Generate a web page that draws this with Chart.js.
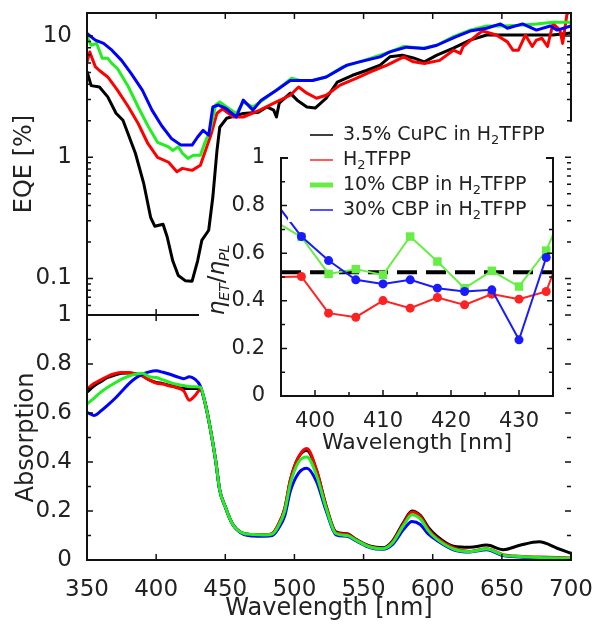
<!DOCTYPE html>
<html>
<head>
<meta charset="utf-8">
<script src="https://cdn.jsdelivr.net/npm/chart.js@4"></script>
<style>
  html, body { margin: 0; padding: 0; background: #fff; }
  #wrap { position: relative; width: 594px; height: 626px; overflow: hidden; }
  canvas { position: absolute; }
</style>
</head>
<body>
<div id="wrap">
  <canvas id="absChart" width="594" height="330" style="left:0;top:296px"></canvas>
  <canvas id="eqeChart" width="594" height="330" style="left:0;top:0"></canvas>
  <canvas id="insetChart" width="400" height="360" style="left:180px;top:110px"></canvas>
</div>
<script>
// ---- EQE (top panel), one wavelength list per curve ----
const eqeBlackWl = [350,353,359,365,371,376,385,391,396,399,405,408,412,416,421,426,430,433,438,441,444,446,451,463,474,480,485,487,489,497,502,509,515,523,531,542,552,562,569,578,586,594,603,615,627,639,651,663,675,687,700];
const eqeBlack   = [5.1,3.9,3.8,3.15,2.31,2.02,1.08,0.61,0.32,0.27,0.28,0.22,0.14,0.106,0.096,0.095,0.14,0.206,0.25,0.47,1.14,1.77,2.1,2.3,2.35,2.6,2.45,2.15,2.8,3.38,2.96,2.6,2.55,3.07,4.17,4.75,5.2,5.76,6.74,6.96,6.6,6.13,6.96,7.95,9.27,10.2,10.2,10.2,10.2,10.2,10.6];

const eqeRedWl = [350,352,356,359,365,372,380,387,394,401,409,412,415,419,426,432,435,440,444,448,456,463,475,487,497,503,509,516,523,533,545,555,567,579,586,594,605,615,620,622,632,636,646,654,658,662,667,672,675,679,683,687,692,694,697,700];
const eqeRed   = [6.1,7.4,5.6,5.2,4.6,3.58,2.6,1.9,1.3,1.0,0.91,0.83,0.76,0.81,0.78,0.86,1.08,1.58,2.31,2.5,2.15,2.15,2.45,2.86,3.25,3.8,3.38,3.07,3.25,3.94,4.5,5.07,5.76,6.74,6.13,5.95,6.3,7.65,7.2,8.2,10.2,11.0,10.2,8.96,7.65,7.65,10.2,8.2,9.27,9.6,8.2,12.7,11.2,8.7,15,17];

const eqeGreenWl = [350,353,357,361,365,368,372,380,387,394,401,409,412,416,419,423,427,432,435,439,443,446,451,458,463,470,477,487,498,504,513,523,535,547,562,569,579,593,603,615,627,639,651,663,675,687,700];
const eqeGreen   = [9.9,8.4,8.7,6.55,6.55,5.95,5.4,3.8,2.6,1.82,1.33,1.22,1.14,1.22,1.08,0.98,1.04,1.04,1.3,1.67,2.7,2.86,2.6,2.3,2.86,2.6,2.96,3.58,4.5,4.3,4.3,4.6,5.57,6.13,6.96,7.4,8.2,7.95,8.4,9.9,11.2,12.1,12.1,12.3,12.6,13.0,13.0];

const eqeBlueWl = [350,356,362,368,375,382,390,397,404,411,418,426,430,434,438,441,445,450,458,463,470,476,487,497,504,513,523,538,547,562,569,581,594,603,617,627,639,649,654,665,675,685,690,700];
const eqeBlue   = [10.5,9.27,8.7,7.65,6.3,4.9,3.58,2.45,1.82,1.43,1.26,1.26,1.47,1.67,1.52,2.6,2.7,2.55,2.15,2.96,2.45,2.96,3.58,4.3,4.3,4.3,4.6,5.76,6.13,6.74,7.4,8.1,7.9,8.4,9.9,11.0,11.6,12.6,11.6,12.6,11.2,12.1,11.2,12.1];

// ---- Absorption (bottom panel), shared wavelength list ----
const absWl    = [350,355,360,365,370,375,380,385,390,395,400,405,410,415,420,424,428,432,435,439,443,446,450,455,462,470,478,484,488,493,497,503,509,516,523,530,538,545,555,564,571,579,585,591,597,603,615,627,639,651,663,677,690,700];
const absBlack = [0.685,0.71,0.728,0.745,0.755,0.762,0.763,0.76,0.752,0.735,0.725,0.72,0.712,0.705,0.70,0.70,0.70,0.70,0.65,0.542,0.407,0.285,0.217,0.149,0.111,0.104,0.102,0.108,0.14,0.21,0.325,0.42,0.447,0.366,0.22,0.115,0.107,0.083,0.056,0.05,0.078,0.155,0.2,0.182,0.132,0.097,0.056,0.052,0.061,0.042,0.06,0.074,0.048,0.027];
const absRed   = [0.698,0.72,0.735,0.75,0.76,0.765,0.765,0.76,0.752,0.735,0.722,0.718,0.71,0.703,0.69,0.652,0.67,0.695,0.65,0.542,0.407,0.285,0.217,0.149,0.111,0.104,0.102,0.108,0.14,0.21,0.325,0.42,0.455,0.366,0.217,0.112,0.105,0.081,0.054,0.047,0.074,0.15,0.196,0.178,0.125,0.09,0.05,0.035,0.046,0.022,0.015,0.012,0.01,0.008];
const absGreen = [0.637,0.66,0.685,0.705,0.722,0.738,0.75,0.758,0.762,0.748,0.745,0.735,0.725,0.717,0.712,0.708,0.707,0.705,0.65,0.542,0.407,0.285,0.217,0.149,0.111,0.104,0.102,0.106,0.135,0.2,0.31,0.40,0.42,0.345,0.21,0.108,0.1,0.079,0.052,0.046,0.07,0.142,0.185,0.168,0.118,0.085,0.045,0.034,0.045,0.02,0.014,0.01,0.008,0.006];
const absBlue  = [0.603,0.59,0.608,0.632,0.658,0.688,0.718,0.742,0.758,0.768,0.772,0.766,0.758,0.748,0.74,0.748,0.738,0.71,0.65,0.542,0.407,0.285,0.217,0.149,0.108,0.098,0.097,0.1,0.125,0.18,0.28,0.355,0.375,0.32,0.2,0.103,0.097,0.077,0.05,0.044,0.064,0.125,0.157,0.145,0.105,0.08,0.042,0.033,0.042,0.018,0.012,0.009,0.007,0.005];

// ---- Inset: eta_ET / eta_PL ----
const inWl    = [394,398,402,406,410,414,418,422,426,430,434,436];
const inRed   = [0.50,0.502,0.348,0.331,0.401,0.369,0.414,0.383,0.428,0.407,0.439,0.59];
const inGreen = [0.736,0.668,0.513,0.533,0.509,0.670,0.565,0.453,0.526,0.46,0.611,0.743];
const inBlue  = [0.82,0.670,0.569,0.488,0.471,0.488,0.453,0.439,0.446,0.236,0.582,null];
const inRefLevel = 0.52;

// ---- ticks ----
const mainXTicks = [350,400,450,500,550,600,650,700];
const eqeTicks = [0.1,1,10];
const eqeMinor = [0.06,0.07,0.08,0.09,0.2,0.3,0.4,0.5,0.6,0.7,0.8,0.9,2,3,4,5,6,7,8,9];
const absTicks = [0,0.2,0.4,0.6,0.8,1];
const absMinor = [0.1,0.3,0.5,0.7,0.9];
const inXTicks = [400,410,420,430];
const inXMinor = [395,405,415,425,435];
const inYTicks = [0,0.2,0.4,0.6,0.8,1];
const inYMinor = [0.1,0.3,0.5,0.7,0.9];

const legendNames = [['3.5% CuPC in H','TFPP'],['H','TFPP'],['10% CBP in H','TFPP'],['30% CBP in H','TFPP']];

const RED = '#ff0000', GREEN = '#22ee22', BLUE = '#0000ff', BLACK = '#000000';
const IN_RED = '#ff2222', IN_GREEN = '#66ee44', IN_BLUE = '#1a1aff';
const TXT = '#222222';

Chart.defaults.font.family = "'DejaVu Sans', sans-serif";
Chart.defaults.color = TXT;

function line(xs, ys, color, order, width, smooth) {
    return {
        data: xs.map((x, i) => ({ x: x, y: ys[i] })),
        borderColor: color,
        backgroundColor: color,
        borderWidth: width,
        pointRadius: 0,
        tension: smooth ? 0.4 : 0,
        cubicInterpolationMode: smooth ? 'monotone' : 'default',
        borderJoinStyle: 'round',
        order: order
    };
}

function fixTicks(list) {
    return scale => { scale.ticks = list.map(v => ({ value: v })); };
}

// keep the plot area exactly where layout.padding puts it
function fitY(width) {
    return s => { s.width = width; s.paddingTop = 0; s.paddingBottom = 0; };
}
function fitX(height) {
    return s => { s.height = height; s.paddingLeft = 0; s.paddingRight = 0; };
}

// box + inward ticks; some edges can be cut short where the inset hides them
const framePlugin = {
    id: 'frame',
    afterDatasetsDraw(chart, args, opts) {
        const { ctx, chartArea: a, scales } = chart;
        const sx = scales.x, sy = scales.y;
        const topEnd = opts.topTo != null ? sx.getPixelForValue(opts.topTo) : a.right;
        const botEnd = opts.bottomTo != null ? sx.getPixelForValue(opts.bottomTo) : a.right;
        const rTop = opts.rightMax != null ? sy.getPixelForValue(opts.rightMax) : a.top;
        const rBot = opts.rightMin != null ? sy.getPixelForValue(opts.rightMin) : a.bottom;
        ctx.save();
        ctx.strokeStyle = '#111';
        ctx.lineWidth = 1.5;
        ctx.beginPath();
        const xtick = (list, len) => {
            (list || []).forEach(v => {
                const px = sx.getPixelForValue(v);
                if (px <= botEnd + 1) { ctx.moveTo(px, a.bottom); ctx.lineTo(px, a.bottom - len); }
                if (px <= topEnd + 1) { ctx.moveTo(px, a.top); ctx.lineTo(px, a.top + len); }
            });
        };
        const ytick = (list, len) => {
            (list || []).forEach(v => {
                const py = sy.getPixelForValue(v);
                ctx.moveTo(a.left, py); ctx.lineTo(a.left + len, py);
                ctx.moveTo(a.right, py); ctx.lineTo(a.right - len, py);
            });
        };
        xtick(opts.x, 6); xtick(opts.xMinor, 4);
        ytick(opts.y, 6); ytick(opts.yMinor, 4);
        ctx.stroke();
        ctx.lineWidth = 2;
        ctx.beginPath();
        ctx.moveTo(a.left, a.top); ctx.lineTo(topEnd, a.top);
        ctx.moveTo(a.left, a.bottom); ctx.lineTo(botEnd, a.bottom);
        ctx.moveTo(a.left, a.top - 1); ctx.lineTo(a.left, a.bottom + 1);
        ctx.moveTo(a.right, rTop - 1); ctx.lineTo(a.right, rBot + 1);
        ctx.stroke();
        ctx.restore();
    }
};

// bottom panel: absorption
new Chart(document.getElementById('absChart'), {
    type: 'line',
    data: {
        datasets: [
            line(absWl, absBlack, BLACK, 3, 3, true),
            line(absWl, absRed, RED, 2, 3, true),
            line(absWl, absBlue, BLUE, 1, 3, true),
            line(absWl, absGreen, GREEN, 0, 3, true)
        ]
    },
    options: {
        responsive: false,
        animation: false,
        layout: { padding: { top: 19, right: 23, bottom: 0, left: 0 } },
        plugins: {
            legend: { display: false },
            tooltip: { enabled: false },
            frame: { x: mainXTicks, y: absTicks, yMinor: absMinor, topTo: 431, rightMax: 0.03 }
        },
        scales: {
            x: {
                type: 'linear', min: 350, max: 700,
                afterBuildTicks: fixTicks(mainXTicks),
                afterFit: fitX(66),
                grid: { display: false }, border: { display: false },
                ticks: { padding: 8, maxRotation: 0, font: { size: 23 }, callback: v => String(v) },
                title: { display: true, text: 'Wavelength [nm]', font: { size: 24 }, padding: { top: 0, bottom: 3 } }
            },
            y: {
                min: 0, max: 1,
                afterBuildTicks: fixTicks(absTicks),
                afterFit: fitY(87),
                grid: { display: false }, border: { display: false },
                ticks: { padding: 7, font: { size: 23 }, callback: v => String(v) },
                title: { display: true, text: 'Absorption', font: { size: 24 }, padding: { top: 12, bottom: 0 } }
            }
        }
    },
    plugins: [framePlugin]
});

// top panel: EQE, log scale
new Chart(document.getElementById('eqeChart'), {
    type: 'line',
    data: {
        datasets: [
            line(eqeBlackWl, eqeBlack, BLACK, 3, 3, false),
            line(eqeRedWl, eqeRed, RED, 2, 3, false),
            line(eqeGreenWl, eqeGreen, GREEN, 1, 3, false),
            line(eqeBlueWl, eqeBlue, BLUE, 0, 3, false)
        ]
    },
    options: {
        responsive: false,
        animation: false,
        layout: { padding: { top: 13, right: 23, bottom: 15, left: 0 } },
        plugins: {
            legend: { display: false },
            tooltip: { enabled: false },
            frame: { x: mainXTicks, y: eqeTicks, yMinor: eqeMinor, bottomTo: 431, rightMin: 2.0 }
        },
        scales: {
            x: { type: 'linear', min: 350, max: 700, display: false },
            y: {
                type: 'logarithmic', min: 0.05, max: 15.5,
                afterBuildTicks: fixTicks(eqeTicks),
                afterFit: fitY(87),
                grid: { display: false }, border: { display: false },
                ticks: { padding: 7, font: { size: 23 }, callback: v => String(v) },
                title: { display: true, text: 'EQE [%]', font: { size: 24 }, padding: { top: 10, bottom: 0 } }
            }
        }
    },
    plugins: [framePlugin]
});

// inset: legend (white box hides the top edge) and y label
const insetDecor = {
    id: 'insetDecor',
    afterDraw(chart) {
        const c = chart.ctx;
        c.save();
        c.fillStyle = '#fff';
        c.fillRect(108, 10, 258, 102);
        const colors = [BLACK, IN_RED, IN_GREEN, IN_BLUE];
        const widths = [1.5, 1.5, 5, 1.5];
        legendNames.forEach((n, i) => {
            const cy = 25 + i * 25;
            c.strokeStyle = colors[i];
            c.lineWidth = widths[i];
            c.beginPath(); c.moveTo(130, cy); c.lineTo(153, cy); c.stroke();
            c.fillStyle = TXT;
            c.textBaseline = 'middle';
            let x = 163;
            c.font = "19px 'DejaVu Sans'";
            c.fillText(n[0], x, cy); x += c.measureText(n[0]).width;
            c.font = "13px 'DejaVu Sans'";
            c.fillText('2', x, cy + 6); x += c.measureText('2').width;
            c.font = "19px 'DejaVu Sans'";
            c.fillText(n[1], x, cy);
        });
        // y label: eta_ET / eta_PL
        const parts = [
            { t: '\u03b7', f: "italic 23px 'DejaVu Sans'", dy: 0 },
            { t: 'ET', f: "italic 14px 'DejaVu Sans'", dy: 5 },
            { t: '/', f: "23px 'DejaVu Sans'", dy: 0 },
            { t: '\u03b7', f: "italic 23px 'DejaVu Sans'", dy: 0 },
            { t: 'PL', f: "italic 14px 'DejaVu Sans'", dy: 5 }
        ];
        let total = 0;
        parts.forEach(p => { c.font = p.f; p.w = c.measureText(p.t).width; total += p.w; });
        c.translate(38, 170);
        c.rotate(-Math.PI / 2);
        c.textBaseline = 'alphabetic';
        c.fillStyle = TXT;
        let u = -total / 2;
        parts.forEach(p => { c.font = p.f; c.fillText(p.t, u, 6 + p.dy); u += p.w; });
        c.restore();
    }
};

const inMarker = ctx => (ctx.raw && ctx.raw.x > 396 && ctx.raw.x < 435 ? 4.5 : 0);

new Chart(document.getElementById('insetChart'), {
    type: 'line',
    data: {
        datasets: [
            {
                data: [{ x: 395, y: inRefLevel }, { x: 435, y: inRefLevel }],
                borderColor: BLACK, borderWidth: 4, borderDash: [20, 9],
                pointRadius: 0, order: 3
            },
            {
                data: inWl.map((x, i) => ({ x: x, y: inGreen[i] })),
                borderColor: IN_GREEN, backgroundColor: IN_GREEN, borderWidth: 2,
                pointStyle: 'rect', pointRadius: ctx => inMarker(ctx) ? 6 : 0,
                pointBorderWidth: 0, tension: 0, order: 2
            },
            {
                data: inWl.map((x, i) => ({ x: x, y: inRed[i] })),
                borderColor: IN_RED, backgroundColor: IN_RED, borderWidth: 2,
                pointStyle: 'circle', pointRadius: inMarker,
                pointBorderWidth: 0, tension: 0, order: 1
            },
            {
                data: inWl.map((x, i) => ({ x: x, y: inBlue[i] })),
                borderColor: IN_BLUE, backgroundColor: IN_BLUE, borderWidth: 2,
                pointStyle: 'circle', pointRadius: inMarker,
                pointBorderWidth: 0, tension: 0, order: 0
            }
        ]
    },
    options: {
        responsive: false,
        animation: false,
        layout: { padding: { top: 48, right: 27, bottom: 12, left: 0 } },
        plugins: {
            legend: { display: false },
            tooltip: { enabled: false },
            frame: { x: inXTicks, xMinor: inXMinor, y: inYTicks, yMinor: inYMinor }
        },
        scales: {
            x: {
                type: 'linear', min: 395, max: 435,
                afterBuildTicks: fixTicks(inXTicks),
                afterFit: fitX(62),
                grid: { display: false }, border: { display: false },
                ticks: { padding: 5, maxRotation: 0, font: { size: 21 }, callback: v => String(v) },
                title: { display: true, text: 'Wavelength [nm]', font: { size: 22 }, padding: { top: 0, bottom: 2 } }
            },
            y: {
                min: 0, max: 1,
                afterBuildTicks: fixTicks(inYTicks),
                afterFit: fitY(101),
                grid: { display: false }, border: { display: false },
                ticks: { padding: 8, font: { size: 21 }, callback: v => String(v) }
            }
        }
    },
    plugins: [framePlugin, insetDecor]
});
</script>
</body>
</html>
